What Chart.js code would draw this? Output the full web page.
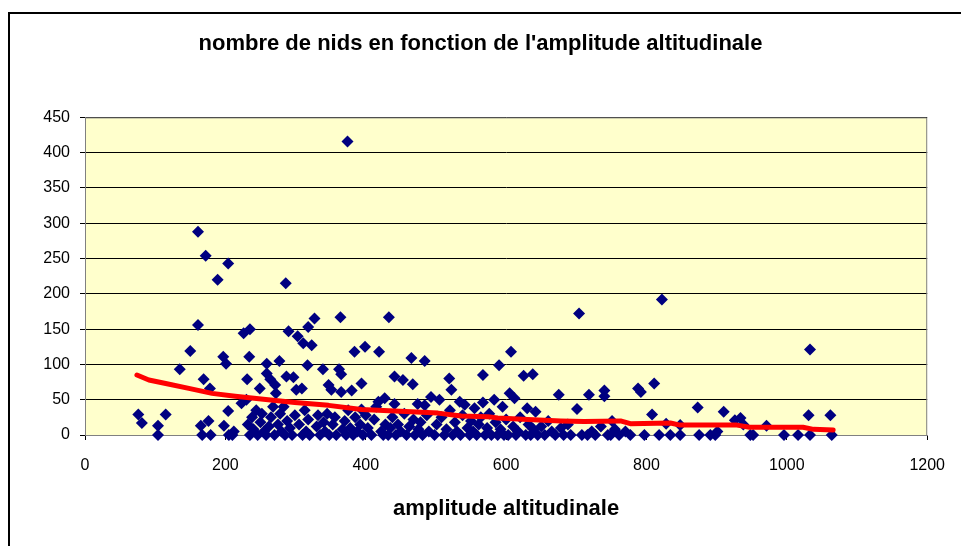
<!DOCTYPE html>
<html>
<head>
<meta charset="utf-8">
<script src="https://cdn.jsdelivr.net/npm/chart.js@4.4.1/dist/chart.umd.min.js"></script>
<style>
  html, body { margin: 0; padding: 0; background: #fff; }
  canvas { display: block; }
</style>
</head>
<body>
<canvas id="myChart" width="961" height="546"></canvas>
<script>
"use strict";

/* Données : amplitude (m) et nombre de nids */
const amplitude = [
  76, 81, 104, 104, 115, 135, 150, 161, 161, 165, 167, 169, 172, 176, 178, 179, 189, 197, 198, 201, 204, 204, 205, 210, 212,
  223, 226, 230, 235, 231, 234, 232, 235, 238, 240, 244, 246, 249, 250, 252, 255, 259, 259, 258, 262, 264, 265, 268, 270, 271,
  272, 275, 277, 278, 280, 283, 285, 286, 287, 288, 290, 292, 295, 297, 299, 301, 303, 305, 309, 310, 311, 313, 315, 317, 318,
  318, 320, 323, 327, 330, 332, 335, 339, 340, 342, 345, 347, 348, 351, 353, 356, 358, 362, 364, 365, 365, 367, 370, 372, 374,
  375, 378, 380, 382, 384, 385, 388, 392, 394, 394, 396, 399, 400, 403, 408, 412, 415, 418, 419, 422, 425, 427, 428,
  433, 432, 435, 438, 441, 441, 443, 446, 450, 453, 455, 458, 462, 465, 467, 468, 470, 474, 475, 478, 481, 484, 484, 487, 490,
  493, 498, 501, 505, 508, 512, 515, 519, 520, 522, 524, 527, 530, 534, 535, 538, 541, 545, 548, 550, 553, 555, 558, 561, 564,
  567, 567, 570, 573, 576, 579, 583, 585, 588, 590, 592, 595, 597, 600, 603, 605, 607, 610, 612, 614, 617, 620, 625, 628, 630,
  632, 635, 638, 639, 642,
  645, 650, 655, 660, 665, 670, 675, 678, 682, 688, 692, 701, 704, 708, 716, 718, 722, 727, 735, 740, 740, 745, 749, 751, 755,
  761, 770, 777, 788, 792, 797, 808, 811, 818, 822, 828, 834, 848, 848, 873, 875, 891, 898, 901, 910, 926, 934, 938, 948, 952,
  971, 996, 1016, 1031, 1033, 1033, 1062, 1064
];
const nids = [
  29, 17, 13, 0, 29, 93, 119, 288, 156, 13, 0, 79, 254, 20, 66, 0, 220, 111, 13, 101, 243, 34, 0, 0, 5,
  45, 144, 50, 150, 79, 111, 15, 0, 25, 8, 35, 0, 66, 18, 30, 5, 101, 87, 0, 12, 79, 25, 40, 0, 71,
  59, 15, 105, 30, 5, 40, 0, 215, 83, 20, 147, 10, 0, 82, 28, 64, 140, 15, 66, 0, 130, 35, 5, 99, 153,
  22, 0, 127, 165, 12, 28, 0, 93, 18, 5, 30, 71, 0, 64, 15, 25, 0, 93, 167, 61, 86, 8, 20, 0, 416,
  35, 10, 63, 0, 118, 25, 5, 15, 73, 36, 0, 125, 28, 10, 0, 22, 40, 47, 118, 5, 0, 52, 15,
  167, 0, 10, 25, 83, 44, 0, 15, 5, 78, 30, 0, 12, 109, 72, 22, 0, 44, 8, 18, 0, 105, 42, 28, 5,
  54, 0, 15, 50, 25, 0, 8, 80, 35, 64, 0, 18, 5, 47, 0, 28, 43, 10, 0, 20, 5, 38, 0, 15, 25,
  85, 46, 0, 10, 30, 0, 50, 18, 0, 99, 8, 40, 0, 22, 0, 59, 118, 12, 52, 0, 5, 25, 84, 0, 38,
  15, 0, 86, 8, 33,
  0, 12, 0, 20, 5, 0, 57, 10, 0, 15, 0, 37, 172, 0, 0, 57, 5, 0, 12, 63, 55, 0, 0, 20, 8,
  0, 5, 0, 66, 61, 0, 29, 73, 0, 192, 16, 0, 14, 0, 39, 0, 0, 0, 5, 33, 21, 24, 15, 0, 0,
  13, 0, 0, 28, 121, 0, 28, 0
];

/* Courbe de tendance (moyenne mobile) */
const trendX = [74, 91, 115, 148, 181, 214, 261, 299, 347, 394, 465, 503, 536, 574, 588, 631, 678, 711, 763, 777, 834, 848, 929, 947, 1023, 1038, 1066];
const trendY = [85, 78, 73, 66, 59, 55, 50, 46, 42, 36, 33, 31, 27, 26, 24, 22, 20, 19, 20, 16, 17, 14, 14, 11, 11, 8, 7];

const xTicks = [0, 200, 400, 600, 800, 1000, 1200];
const yTicks = [0, 50, 100, 150, 200, 250, 300, 350, 400, 450];

Chart.defaults.font.family = "'Liberation Sans', Arial, sans-serif";
Chart.defaults.color = "#000";

/* Fond jaune, cadre du graphique et bordure de la zone de tracé */
const cadre = {
  id: "cadre",
  beforeDraw(chart) {
    const { ctx, chartArea: a } = chart;
    ctx.save();
    ctx.fillStyle = "#fff";
    ctx.fillRect(0, 0, chart.width, chart.height);
    ctx.fillStyle = "#FFFFCC";
    ctx.fillRect(a.left, a.top, a.right - a.left, a.bottom - a.top);
    ctx.strokeStyle = "#000";
    ctx.lineWidth = 2;
    ctx.strokeRect(9, 13, 1000, 600);
    ctx.restore();
  },
  beforeDatasetsDraw(chart) {
    const { ctx, chartArea: a } = chart;
    ctx.save();
    ctx.strokeStyle = "#808080";
    ctx.lineWidth = 1;
    ctx.beginPath();
    ctx.moveTo(a.left, a.top + 0.5);
    ctx.lineTo(a.right - 0.5, a.top + 0.5);
    ctx.lineTo(a.right - 0.5, a.bottom);
    ctx.stroke();
    ctx.restore();
  }
};

function createChart() {
  const points = amplitude.map((x, i) => ({ x: x, y: nids[i] }));
  const trend = trendX.map((x, i) => ({ x: x, y: trendY[i] }));
  const ctx = document.getElementById("myChart");

  new Chart(ctx, {
    type: "scatter",
    data: {
      datasets: [
        {
          type: "line",
          label: "tendance",
          data: trend,
          borderColor: "#FF0000",
          borderWidth: 5,
          pointRadius: 0,
          showLine: true,
          tension: 0,
          borderCapStyle: "round",
          borderJoinStyle: "round",
          clip: false,
          order: 0
        },
        {
          label: "nombre de nids",
          data: points,
          pointStyle: "rectRot",
          pointRadius: 6,
          backgroundColor: "#000080",
          borderColor: "#000080",
          borderWidth: 0,
          clip: false,
          order: 1
        }
      ]
    },
    options: {
      responsive: false,
      animation: false,
      layout: { padding: 0 },
      plugins: {
        legend: { display: false },
        tooltip: { enabled: false },
        title: {
          display: true,
          text: "nombre de nids en fonction de l'amplitude altitudinale",
          font: { size: 22, weight: "bold" },
          padding: { top: 31, bottom: 60 }
        }
      },
      scales: {
        x: {
          type: "linear",
          min: 0,
          max: 1200,
          afterBuildTicks: s => { s.ticks = xTicks.map(v => ({ value: v })); },
          afterFit: s => { s.height = 111; },
          ticks: { font: { size: 16 }, padding: 16, maxRotation: 0, callback: v => String(v) },
          grid: { drawOnChartArea: false, drawTicks: true, tickLength: 5, color: "#000" },
          border: { display: true, color: "#808080", width: 1 },
          title: {
            display: true,
            text: "amplitude altitudinale",
            font: { size: 22, weight: "bold" },
            padding: { top: 0, bottom: 24 }
          }
        },
        y: {
          type: "linear",
          min: 0,
          max: 450,
          afterBuildTicks: s => { s.ticks = yTicks.map(v => ({ value: v })); },
          afterFit: s => { s.width = 85; },
          ticks: { font: { size: 16 }, padding: 10, callback: v => String(v) },
          grid: { color: "#000", lineWidth: 1, drawTicks: true, tickLength: 5 },
          border: { display: true, color: "#808080", width: 1 }
        },
        /* marge droite : axe vide pour laisser la place à droite de la zone de tracé */
        marge: {
          type: "linear",
          position: "right",
          afterFit: s => { s.width = 30; },
          ticks: { display: false },
          grid: { display: false },
          border: { display: false }
        }
      }
    },
    plugins: [cadre]
  });
}

createChart();
</script>
</body>
</html>
